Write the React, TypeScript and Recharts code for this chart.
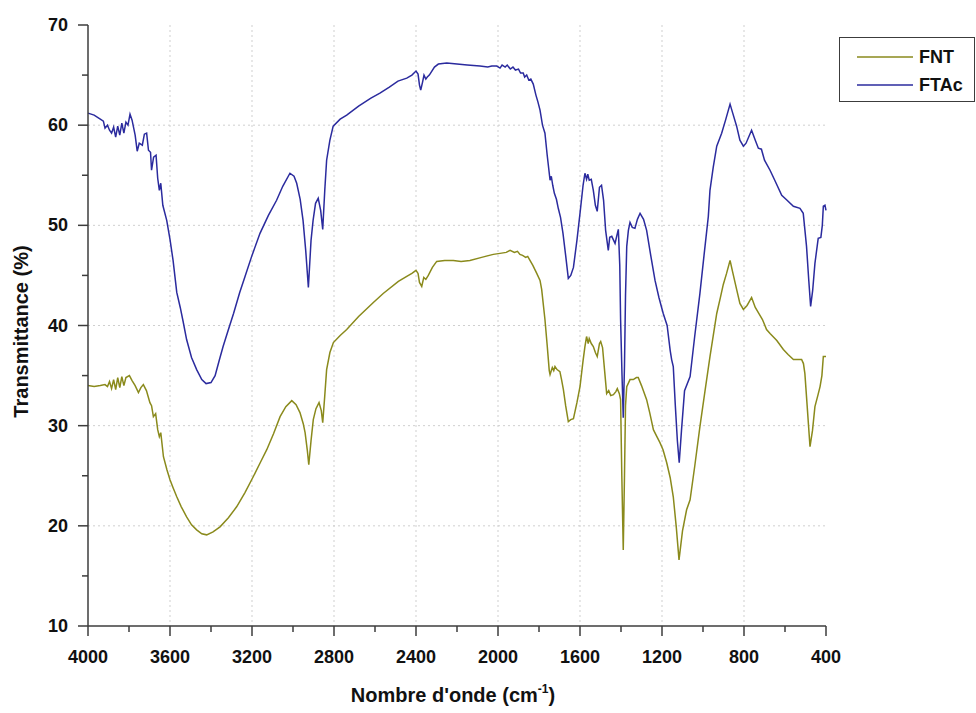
import React from 'react';
import { LineChart, Line, XAxis, YAxis, CartesianGrid, Legend } from 'recharts';

// [wavenumber cm-1, transmittance %]
const FNT: [number, number][] = [
  [4000, 34.0], [3970, 33.9], [3940, 34.0], [3917, 34.1], [3905, 33.9], [3895, 34.4], [3885, 33.7],
  [3875, 34.6], [3865, 33.6], [3855, 34.8], [3845, 33.8], [3835, 34.9], [3825, 34.0], [3815, 34.8],
  [3798, 35.0], [3785, 34.5], [3770, 34.0], [3754, 33.3], [3742, 33.8], [3730, 34.1], [3715, 33.5],
  [3698, 32.3], [3690, 32.0], [3681, 30.9], [3670, 31.2], [3660, 29.6], [3652, 28.9], [3645, 29.3],
  [3632, 26.9], [3615, 25.6], [3600, 24.6], [3585, 23.8], [3567, 22.9], [3545, 21.9], [3519, 20.9],
  [3495, 20.1], [3470, 19.6], [3445, 19.2], [3421, 19.1], [3390, 19.4], [3356, 19.9], [3315, 20.8],
  [3275, 21.9], [3235, 23.3], [3194, 24.9], [3160, 26.3], [3128, 27.6], [3095, 29.2], [3063, 30.9],
  [3035, 31.9], [3006, 32.5], [2985, 32.1], [2966, 31.3], [2950, 30.2], [2941, 29.3], [2930, 27.5],
  [2923, 26.1], [2912, 28.5], [2901, 30.6], [2888, 31.7], [2873, 32.3], [2862, 31.5], [2855, 30.3],
  [2845, 33.0], [2836, 35.6], [2820, 37.3], [2803, 38.3], [2770, 39.0], [2738, 39.6], [2680, 40.9],
  [2608, 42.3], [2560, 43.2], [2486, 44.4], [2445, 44.9], [2420, 45.2], [2400, 45.5], [2390, 45.2],
  [2383, 44.3], [2372, 43.9], [2362, 44.8], [2352, 44.6], [2340, 45.0], [2320, 45.8], [2299, 46.4],
  [2260, 46.5], [2218, 46.5], [2180, 46.4], [2137, 46.5], [2080, 46.8], [2023, 47.1], [1990, 47.2],
  [1960, 47.3], [1941, 47.5], [1920, 47.3], [1905, 47.4], [1893, 47.1], [1880, 47.0], [1865, 46.8],
  [1855, 46.9], [1844, 46.5], [1830, 46.0], [1811, 45.2], [1795, 44.5], [1787, 43.6], [1771, 40.6],
  [1760, 38.0], [1750, 35.5], [1746, 35.1], [1735, 35.8], [1728, 35.5], [1722, 35.9], [1712, 35.6],
  [1698, 35.4], [1690, 34.6], [1681, 33.6], [1670, 32.0], [1657, 30.4], [1645, 30.6], [1632, 30.7],
  [1615, 32.3], [1600, 33.9], [1585, 36.5], [1576, 37.9], [1568, 38.9], [1560, 38.2], [1555, 38.7],
  [1545, 38.2], [1535, 37.9], [1525, 37.3], [1516, 36.9], [1505, 38.2], [1499, 38.4], [1490, 37.8],
  [1480, 35.5], [1470, 33.2], [1460, 33.5], [1450, 33.0], [1437, 33.1], [1425, 33.4], [1418, 33.7],
  [1408, 33.2], [1402, 32.6], [1396, 25.0], [1389, 17.6], [1383, 25.0], [1378, 32.0], [1372, 33.9],
  [1356, 34.6], [1340, 34.6], [1325, 34.8], [1316, 34.8], [1300, 34.0], [1275, 32.6], [1260, 31.3],
  [1242, 29.6], [1225, 28.9], [1210, 28.3], [1195, 27.6], [1177, 26.3], [1160, 24.8], [1145, 22.9],
  [1130, 19.8], [1117, 16.6], [1100, 19.5], [1080, 21.6], [1063, 22.6], [1040, 26.0], [1015, 29.9],
  [990, 33.5], [966, 36.9], [950, 39.0], [933, 41.2], [915, 42.8], [901, 44.1], [885, 45.2],
  [868, 46.5], [855, 45.3], [836, 43.6], [820, 42.2], [803, 41.6], [785, 42.0], [763, 42.8],
  [745, 41.8], [725, 41.1], [710, 40.6], [690, 39.6], [673, 39.2], [640, 38.5], [608, 37.6],
  [585, 37.1], [559, 36.6], [540, 36.6], [519, 36.6], [510, 36.2], [503, 35.2], [492, 32.0],
  [478, 27.9], [466, 29.5], [454, 31.9], [440, 33.0], [429, 33.9], [420, 35.0], [413, 36.9], [400, 36.9],
];

const FTAC: [number, number][] = [
  [4000, 61.2], [3970, 61.0], [3940, 60.6], [3925, 60.4], [3917, 59.7], [3905, 60.0], [3895, 59.5],
  [3885, 59.2], [3875, 59.8], [3865, 58.8], [3855, 59.9], [3845, 59.0], [3835, 60.2], [3825, 59.2],
  [3815, 60.3], [3805, 60.0], [3795, 61.1], [3785, 60.5], [3770, 59.0], [3760, 57.4], [3750, 58.2],
  [3735, 58.0], [3725, 59.1], [3714, 59.2], [3705, 57.5], [3695, 57.3], [3690, 55.5], [3680, 56.8],
  [3668, 57.0], [3660, 54.7], [3652, 53.5], [3645, 54.2], [3635, 52.0], [3616, 50.5], [3600, 48.6],
  [3585, 46.5], [3567, 43.3], [3550, 41.8], [3536, 40.4], [3519, 38.6], [3495, 36.8], [3470, 35.6],
  [3445, 34.6], [3424, 34.2], [3400, 34.3], [3380, 35.0], [3360, 36.5], [3341, 37.9], [3315, 39.6],
  [3290, 41.2], [3260, 43.3], [3234, 44.9], [3200, 47.0], [3161, 49.2], [3120, 51.0], [3080, 52.5],
  [3050, 53.9], [3015, 55.2], [2995, 54.9], [2982, 54.2], [2965, 52.6], [2951, 50.5], [2938, 47.5],
  [2925, 43.8], [2912, 48.5], [2902, 50.5], [2890, 52.2], [2877, 52.7], [2865, 51.5], [2855, 49.6],
  [2845, 53.5], [2836, 56.5], [2820, 58.5], [2804, 59.9], [2770, 60.6], [2738, 61.0], [2680, 61.9],
  [2620, 62.7], [2576, 63.2], [2530, 63.8], [2488, 64.4], [2445, 64.7], [2420, 65.0], [2400, 65.4],
  [2390, 65.1], [2383, 64.0], [2377, 63.5], [2368, 64.3], [2361, 65.0], [2352, 64.6], [2345, 64.8],
  [2335, 65.0], [2310, 65.8], [2291, 66.1], [2250, 66.2], [2200, 66.1], [2150, 66.0], [2088, 65.9],
  [2050, 65.8], [2030, 65.9], [2006, 65.9], [1990, 65.7], [1980, 66.0], [1965, 65.8], [1955, 66.0],
  [1940, 65.6], [1927, 65.8], [1915, 65.5], [1900, 65.6], [1890, 65.2], [1877, 65.2], [1870, 64.8],
  [1860, 65.0], [1850, 64.5], [1840, 64.6], [1828, 64.1], [1815, 63.0], [1805, 62.3], [1795, 61.5],
  [1783, 60.0], [1771, 59.2], [1760, 57.0], [1746, 54.5], [1740, 54.9], [1733, 54.0], [1725, 53.2],
  [1715, 52.6], [1706, 51.7], [1695, 50.8], [1683, 49.2], [1670, 47.0], [1657, 44.7], [1645, 45.0],
  [1632, 45.8], [1615, 48.5], [1600, 51.2], [1585, 54.0], [1576, 55.2], [1568, 54.6], [1562, 55.1],
  [1555, 54.5], [1545, 54.6], [1535, 53.5], [1525, 52.0], [1516, 51.4], [1505, 53.8], [1495, 54.0],
  [1485, 52.5], [1475, 49.5], [1462, 47.5], [1455, 48.8], [1445, 48.9], [1429, 48.2], [1420, 49.0],
  [1413, 49.6], [1406, 46.0], [1402, 40.6], [1395, 35.0], [1389, 30.8], [1383, 36.0], [1378, 43.0],
  [1372, 47.9], [1364, 49.5], [1356, 50.3], [1345, 49.8], [1332, 49.7], [1320, 50.6], [1307, 51.2],
  [1290, 50.6], [1275, 49.5], [1255, 47.0], [1234, 44.5], [1215, 42.8], [1194, 41.2], [1175, 40.0],
  [1160, 37.5], [1153, 36.6], [1145, 35.9], [1135, 32.0], [1125, 28.5], [1116, 26.3], [1105, 29.5],
  [1090, 33.5], [1063, 34.9], [1040, 39.0], [1015, 43.2], [995, 47.0], [974, 50.9], [966, 53.5],
  [950, 55.8], [933, 57.9], [909, 59.2], [890, 60.5], [868, 62.1], [855, 61.2], [836, 59.9],
  [820, 58.5], [803, 57.9], [790, 58.2], [763, 59.5], [745, 58.5], [730, 57.7], [715, 57.6],
  [700, 56.5], [673, 55.5], [650, 54.5], [616, 53.0], [590, 52.5], [559, 51.9], [527, 51.7],
  [511, 51.2], [495, 47.9], [484, 44.5], [475, 41.9], [465, 43.5], [454, 46.2], [438, 48.7],
  [425, 48.8], [418, 50.0], [413, 51.9], [405, 52.0], [400, 51.5],
];

const X_TICKS = [4000, 3800, 3600, 3400, 3200, 3000, 2800, 2600, 2400, 2200, 2000, 1800, 1600, 1400, 1200, 1000, 800, 600, 400];
const X_GRID = [3600, 3200, 2800, 2400, 2000, 1600, 1200, 800];
const Y_TICKS = [10, 15, 20, 25, 30, 35, 40, 45, 50, 55, 60, 65, 70];
const Y_GRID = [20, 30, 40, 50, 60];

const SERIES = [
  { name: 'FNT', color: '#8a8a1c', data: FNT },
  { name: 'FTAc', color: '#2b2b9e', data: FTAC },
];

const FONT = '"Liberation Sans", Arial, sans-serif';
const AXIS = '#3c3c3c';

const XTick = (props: any) => {
  const { x, y, payload } = props;
  const major = payload.value % 400 === 0;
  return (
    <g>
      <line x1={x} x2={x} y1={y} y2={y + (major ? 10 : 6)} stroke={AXIS} strokeWidth={1.5} />
      {major && (
        <text x={x} y={y + 37} textAnchor="middle" fontSize={18} fontWeight="bold" fill="#111" fontFamily={FONT}>
          {payload.value}
        </text>
      )}
    </g>
  );
};

const YTick = (props: any) => {
  const { x, y, payload } = props;
  const major = payload.value % 10 === 0;
  return (
    <g>
      <line x1={x} x2={x - (major ? 10 : 6)} y1={y} y2={y} stroke={AXIS} strokeWidth={1.5} />
      {major && (
        <text x={x - 20} y={y + 6} textAnchor="end" fontSize={18} fontWeight="bold" fill="#111" fontFamily={FONT}>
          {payload.value}
        </text>
      )}
    </g>
  );
};

const XLabel = (props: any) => {
  const { viewBox } = props;
  const cx = viewBox.x + viewBox.width / 2 - 4;
  return (
    <text x={cx} y={702} textAnchor="middle" fontSize={20} fontWeight="bold" fill="#111" fontFamily={FONT}>
      Nombre d'onde (cm
      <tspan dy={-9} fontSize={12}>-1</tspan>
      <tspan dy={9}>)</tspan>
    </text>
  );
};

const YLabel = (props: any) => {
  const { viewBox } = props;
  const cy = viewBox.y + viewBox.height / 2 + 6;
  return (
    <text
      x={28}
      y={cy}
      transform={`rotate(-90, 28, ${cy})`}
      textAnchor="middle"
      fontSize={20}
      fontWeight="bold"
      fill="#111"
      fontFamily={FONT}
    >
      Transmittance (%)
    </text>
  );
};

const LegendBox = () => (
  <div
    style={{
      width: 136,
      height: 65,
      boxSizing: 'border-box',
      border: `1.5px solid ${AXIS}`,
      background: '#fff',
      fontFamily: FONT,
      paddingTop: 5,
    }}
  >
    {SERIES.map((s) => (
      <div key={s.name} style={{ display: 'flex', alignItems: 'center', height: 28 }}>
        <svg width={78} height={10} style={{ display: 'block' }}>
          <line x1={17} x2={73} y1={5} y2={5} stroke={s.color} strokeWidth={1.5} />
        </svg>
        <span style={{ fontSize: 18, fontWeight: 'bold', color: '#111', marginLeft: 1 }}>{s.name}</span>
      </div>
    ))}
  </div>
);

export default function App() {
  return (
    <div style={{ position: 'absolute', left: 0, top: 0, width: 976, height: 713, background: '#fff' }}>
      <LineChart width={976} height={713} margin={{ top: 25, right: 150, bottom: 0, left: 0 }}>
        <CartesianGrid
          horizontalValues={Y_GRID}
          verticalValues={X_GRID}
          stroke="#cfcfcf"
          strokeDasharray="2 3"
        />
        <XAxis
          dataKey="wn"
          type="number"
          domain={[400, 4000]}
          reversed
          ticks={X_TICKS}
          interval={0}
          height={87}
          tickSize={0}
          tickMargin={0}
          tickLine={false}
          tick={<XTick />}
          axisLine={{ stroke: AXIS, strokeWidth: 1.5 }}
          allowDuplicatedCategory={false}
          label={<XLabel />}
        />
        <XAxis
          xAxisId="top"
          orientation="top"
          type="number"
          domain={[400, 4000]}
          reversed
          height={0}
          tick={false}
          tickLine={false}
          axisLine={{ stroke: '#555', strokeWidth: 2.5 }}
        />
        <YAxis
          type="number"
          domain={[10, 70]}
          ticks={Y_TICKS}
          interval={0}
          width={88}
          tickSize={0}
          tickMargin={0}
          tickLine={false}
          tick={<YTick />}
          axisLine={{ stroke: AXIS, strokeWidth: 1.5 }}
          label={<YLabel />}
        />
        <YAxis
          yAxisId="right"
          orientation="right"
          type="number"
          domain={[10, 70]}
          width={0}
          tick={false}
          tickLine={false}
          axisLine={{ stroke: '#555', strokeWidth: 2.5 }}
        />
        <Legend
          layout="vertical"
          align="center"
          verticalAlign="middle"
          content={<LegendBox />}
          wrapperStyle={{ position: 'absolute', left: 839, top: 37, width: 136, height: 65 }}
        />
        {SERIES.map((s) => (
          <Line
            key={s.name}
            name={s.name}
            data={s.data.map(([wn, t]) => ({ wn, t }))}
            dataKey="t"
            stroke={s.color}
            strokeWidth={1.5}
            dot={false}
            activeDot={false}
            isAnimationActive={false}
          />
        ))}
      </LineChart>
    </div>
  );
}
